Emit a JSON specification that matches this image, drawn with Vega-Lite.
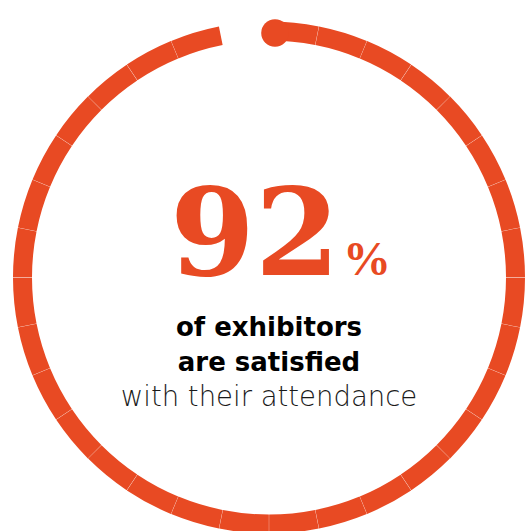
{
  "$schema": "https://vega.github.io/schema/vega-lite/v6.json",
  "autosize": {"type": "fit", "contains": "padding"},
  "width": 525,
  "height": 531,
  "padding": {"left": 13, "top": 19, "right": 0, "bottom": 0},
  "background": "white",
  "config": {"view": {"stroke": null}},
  "layer": [
    {
      "data": {"values": [
        {"s": 0, "e": 1}, {"s": 1, "e": 2}, {"s": 2, "e": 3}, {"s": 3, "e": 4},
        {"s": 4, "e": 5}, {"s": 5, "e": 6}, {"s": 6, "e": 7}, {"s": 7, "e": 8},
        {"s": 8, "e": 9}, {"s": 9, "e": 10}, {"s": 10, "e": 11}, {"s": 11, "e": 12},
        {"s": 12, "e": 13}, {"s": 13, "e": 14}, {"s": 14, "e": 15}, {"s": 15, "e": 16},
        {"s": 16, "e": 17}, {"s": 17, "e": 18}, {"s": 18, "e": 19}, {"s": 19, "e": 20},
        {"s": 20, "e": 21}, {"s": 21, "e": 22}, {"s": 22, "e": 23}, {"s": 23, "e": 24},
        {"s": 24, "e": 25}, {"s": 25, "e": 26}, {"s": 26, "e": 27}, {"s": 27, "e": 28},
        {"s": 28, "e": 29}, {"s": 29, "e": 30}, {"s": 30, "e": 31}
      ]},
      "mark": {"type": "arc", "innerRadius": 237, "outerRadius": 256, "padAngle": 0.0008, "color": "#e84a23"},
      "encoding": {
        "theta": {"field": "s", "type": "quantitative", "scale": {"domain": [0, 32]}},
        "theta2": {"field": "e"}
      }
    },
    {
      "data": {"values": [{"px": 6, "py": 247}]},
      "mark": {"type": "point", "filled": true, "size": 760, "color": "#e84a23", "opacity": 1},
      "encoding": {
        "x": {"field": "px", "type": "quantitative", "scale": {"domain": [-256, 256]}, "axis": null},
        "y": {"field": "py", "type": "quantitative", "scale": {"domain": [-256, 256]}, "axis": null}
      }
    },
    {
      "data": {"values": [{"t": "92"}]},
      "mark": {"type": "text", "font": "DejaVu Serif", "fontWeight": "bold", "fontSize": 122, "color": "#e84a23", "align": "center", "baseline": "alphabetic", "dx": -14, "dy": -3},
      "encoding": {"text": {"field": "t"}}
    },
    {
      "data": {"values": [{"t": "%"}]},
      "mark": {"type": "text", "font": "Liberation Serif", "fontWeight": "bold", "fontSize": 48, "color": "#e84a23", "align": "left", "baseline": "alphabetic", "dx": 74, "dy": -3},
      "encoding": {"text": {"field": "t"}}
    },
    {
      "data": {"values": [{"t": "of exhibitors"}]},
      "mark": {"type": "text", "font": "DejaVu Sans", "fontWeight": "bold", "fontSize": 26, "color": "#000000", "align": "center", "baseline": "alphabetic", "dy": 58},
      "encoding": {"text": {"field": "t"}}
    },
    {
      "data": {"values": [{"t": "are satisfied"}]},
      "mark": {"type": "text", "font": "DejaVu Sans", "fontWeight": "bold", "fontSize": 26, "color": "#000000", "align": "center", "baseline": "alphabetic", "dy": 93},
      "encoding": {"text": {"field": "t"}}
    },
    {
      "data": {"values": [{"t": "with their attendance"}]},
      "mark": {"type": "text", "font": "DejaVu Sans", "fontWeight": 200, "fontSize": 27.5, "color": "#1a1a1a", "align": "center", "baseline": "alphabetic", "dy": 128},
      "encoding": {"text": {"field": "t"}}
    }
  ]
}
